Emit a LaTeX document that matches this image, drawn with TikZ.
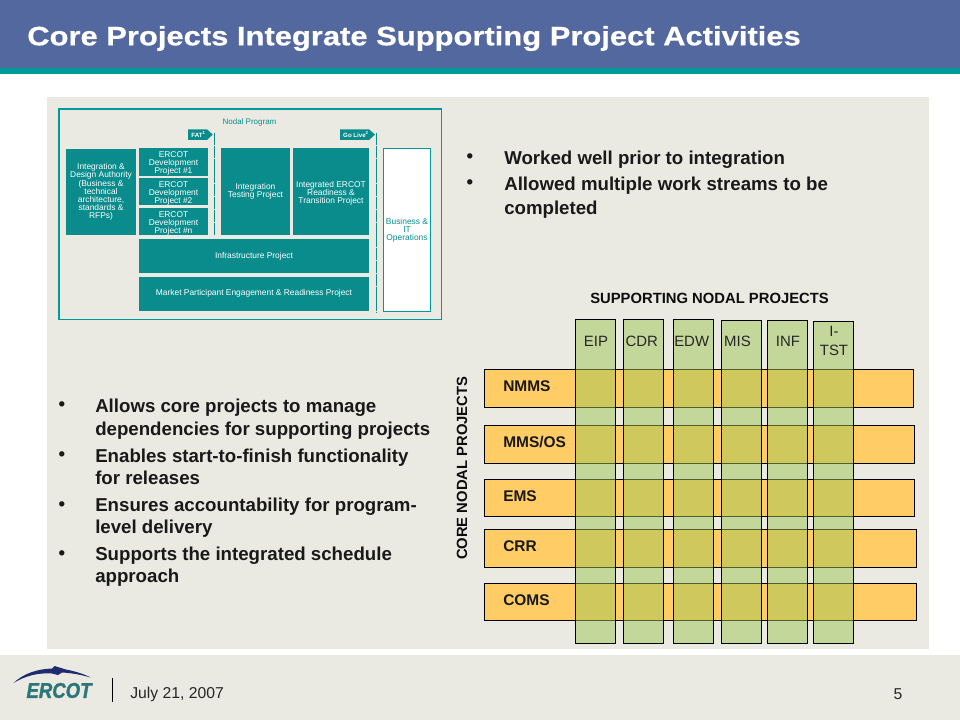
\documentclass[tikz,border=0pt]{standalone}
\usepackage{fontspec}
\setmainfont{Liberation Sans}
\newfontfamily\titlefont{Liberation Sans}[BoldFeatures={FakeStretch=1.16,FakeBold=0.5}]
\newfontfamily\logofont{Liberation Sans}[BoldItalicFeatures={FakeStretch=0.87,FakeBold=1.5}]
\usetikzlibrary{positioning}
\definecolor{headblue}{HTML}{5468A0}
\definecolor{stripeteal}{HTML}{009A9A}
\definecolor{panelgrey}{HTML}{EAEAE2}
\definecolor{boxteal}{HTML}{0A8C8C}
\definecolor{roworange}{HTML}{FFCC66}
\definecolor{colgreen}{HTML}{9FC556}
\definecolor{logoblue}{HTML}{1F2A70}
\definecolor{logoteal}{HTML}{2A7678}
\newcommand{\lowerline}{\rule{0pt}{6.8pt}} % pushes a block of small text down a little
\tikzset{
	box/.style={anchor=north west, inner sep=0pt, outer sep=0pt}, % all boxes are given by their top left corner
	size/.style 2 args={minimum width=#1*0.75pt, minimum height=#2*0.75pt}, % sizes in pixels of the slide
	tealbox/.style={box, fill=boxteal, text=white, align=center, font=\fontsize{6.3}{6.1}\selectfont},
	rowbar/.style={box, draw=black, line width=0.6pt, fill=roworange},
	colbar/.style={box, draw=black, line width=0.6pt, fill=colgreen, fill opacity=0.5},
	rowlabel/.style={anchor=west, inner sep=0pt, font=\fontsize{11.6}{13}\selectfont\bfseries, text=black!90},
	collabel/.style={inner sep=0pt, align=center, font=\fontsize{11.2}{14}\selectfont, text=black!85},
	headlabel/.style={inner sep=0pt, font=\fontsize{11.1}{12}\selectfont\bfseries, text=black!95},
	bullettext/.style={anchor=north west, inner sep=0pt, align=left, font=\fontsize{14}{16.5}\selectfont\bfseries, text=black!90},
	bulletmark/.style={inner sep=0pt, font=\fontsize{14}{16.5}\selectfont\bfseries, text=black!90},
	flag/.style={fill=boxteal},
	flagtext/.style={inner sep=0pt, text=white, font=\fontsize{4.6}{5}\selectfont\bfseries},
	gate/.style={draw=boxteal, line width=1pt, dash pattern=on 9pt off 0.6pt},
}
\begin{document}
\begin{tikzpicture}[x=0.75pt,y=-0.75pt]
	\useasboundingbox (0,0) rectangle (960,720);
	% slide background
	\fill[white] (0,0) rectangle (960,720);
	\fill[headblue] (0,0) rectangle (960,68);
	\fill[stripeteal] (0,68) rectangle (960,74);
	\fill[panelgrey] (47,97) rectangle (929,649);
	\fill[panelgrey] (0,655) rectangle (960,720);
	\node[anchor=west, inner sep=0pt, text=white, font=\fontsize{20}{24}\titlefont\bfseries] (title) at (27,38.5) {Core Projects Integrate Supporting Project Activities};

	% small program chart
	\node[box, draw=stripeteal, line width=0.8pt, size={382.7}{210.3}] (program) at (59,109) {};
	\node[inner sep=0pt, text=boxteal, font=\fontsize{6}{7}\selectfont] (programname) at (249.5,122) {Nodal Program};
	\node[tealbox, size={70}{86}] (design) at (66,149) {Integration \&\\Design Authority\\(Business \&\\technical\\architecture,\\standards \&\\RFPs)};
	\node[tealbox, size={69}{28}] (dev1) at (139,148) {\lowerline ERCOT\\Development\\Project \#1};
	\node[tealbox, size={69}{27}] (dev2) at (139,178) {\lowerline ERCOT\\Development\\Project \#2};
	\node[tealbox, size={69}{27}] (devn) at (139,208) {\lowerline ERCOT\\Development\\Project \#n};
	\node[tealbox, size={69}{87}] (testing) at (221,148) {Integration\\Testing Project};
	\node[tealbox, size={76}{87}] (readiness) at (293,148) {\lowerline Integrated ERCOT\\Readiness \&\\Transition Project};
	\node[tealbox, size={230}{33.7}] (infra) at (139,239) {Infrastructure Project};
	\node[tealbox, size={230}{34}] (market) at (139,276.7) {Market Participant Engagement \& Readiness Project};
	\node[box, draw=stripeteal, line width=0.8pt, fill=white, text=boxteal, align=center, font=\fontsize{6.3}{6.1}\selectfont, size={47.4}{163.4}] (business) at (383.3,148.3) {Business \&\\IT\\Operations};

	\fill[flag] (188,129.3) -- (207,129.3) -- (212.7,134.6) -- (207,140) -- (188,140) -- cycle;
	\node[flagtext] (fat) at (198.5,134.7) {FAT\textsuperscript{1}};
	\fill[flag] (340,129.3) -- (369,129.3) -- (375,134.6) -- (369,140) -- (340,140) -- cycle;
	\node[flagtext] (golive) at (356,134.7) {Go Live\textsuperscript{2}};
	\coordinate (fattop) at (214.3,133);
	\coordinate (fatend) at (214.3,235);
	\coordinate (livetop) at (376.7,133);
	\coordinate (liveend) at (376.7,312.7);
	\draw[gate] (fattop) -- (fatend);
	\draw[gate] (livetop) -- (liveend);

	% bullets top right
	\node[bullettext] (well) at (504,151) {Worked well prior to integration};
	\node[bullettext] (streams) at (504,177) {Allowed multiple work streams to be\\[1.4pt]completed};
	\node[bulletmark] (wellmark) at (470,158) {•};
	\node[bulletmark] (streamsmark) at (470,184) {•};

	% bullets bottom left
	\node[bullettext] (manage) at (95,399) {Allows core projects to manage\\[0.7pt]dependencies for supporting projects};
	\node[bullettext] (enable) at (95,448.5) {Enables start-to-finish functionality\\for releases};
	\node[bullettext] (ensure) at (95,497.5) {Ensures accountability for program-\\level delivery};
	\node[bullettext] (support) at (95,547) {Supports the integrated schedule\\approach};
	\node[bulletmark] (managemark) at (62,406.5) {•};
	\node[bulletmark] (enablemark) at (62,456) {•};
	\node[bulletmark] (ensuremark) at (62,506.5) {•};
	\node[bulletmark] (supportmark) at (62,555) {•};

	% matrix of projects
	\node[headlabel] (supporting) at (709.5,298.5) {SUPPORTING NODAL PROJECTS};
	\node[headlabel, rotate=90] (core) at (462,468.3) {CORE NODAL PROJECTS};

	\node[rowbar, size={429}{38}] (nmms) at (484.3,369.3) {};
	\node[rowbar, size={430}{38}] (mmsos) at (484.3,425.3) {};
	\node[rowbar, size={430}{37}] (ems) at (484.3,479.3) {};
	\node[rowbar, size={432.4}{38}] (crr) at (484.3,529.3) {};
	\node[rowbar, size={432.4}{37}] (coms) at (484.3,583.3) {};
	\node[rowlabel] (nmmstext) at (503,386.3) {NMMS};
	\node[rowlabel] (mmsostext) at (503,442) {MMS/OS};
	\node[rowlabel] (emstext) at (503,496) {EMS};
	\node[rowlabel] (crrtext) at (503,546) {CRR};
	\node[rowlabel] (comstext) at (503,600) {COMS};

	\node[colbar, size={40}{324}] (eip) at (575.3,319.3) {};
	\node[colbar, size={40}{324}] (cdr) at (623.3,319.3) {};
	\node[colbar, size={40}{324}] (edw) at (673.3,319.3) {};
	\node[colbar, size={40}{323}] (mis) at (721.3,320.3) {};
	\node[colbar, size={40}{323}] (inf) at (767.3,320.3) {};
	\node[colbar, size={40}{322}] (itst) at (813.3,321.3) {};
	\node[collabel] (eiptext) at (596,341) {EIP};
	\node[collabel] (cdrtext) at (641.7,341) {CDR};
	\node[collabel] (edwtext) at (691.7,341) {EDW};
	\node[collabel] (mistext) at (737.5,341) {MIS};
	\node[collabel] (inftext) at (788,341) {INF};
	\node[collabel] (itsttext) at (834,341) {I-\\TST};

	% footer with logo
	\fill[logoblue] (13.5,683) .. controls (24,673) and (38,669) .. (52,668.5) -- (54.5,666) -- (66,669.5) .. controls (76,671.5) and (84,674) .. (90.5,677.5) .. controls (82,675) and (72,673) .. (62,672.5) -- (58,675) -- (52,673.5) .. controls (38,672.5) and (25,676) .. (13.5,683) -- cycle;
	\node[inner sep=0pt, text=logoteal, font=\fontsize{16}{18}\logofont\bfseries\itshape] (ercot) at (59,690.5) {ERCOT};
	\coordinate (septop) at (112.5,678);
	\coordinate (sepend) at (112.5,702);
	\draw[black, line width=0.7pt] (septop) -- (sepend);
	\node[anchor=west, inner sep=0pt, text=black!85, font=\fontsize{11.8}{14}\selectfont] (date) at (130,694.5) {July 21, 2007};
	\node[inner sep=0pt, text=black!85, font=\fontsize{11.8}{14}\selectfont] (pagenum) at (898,694.5) {5};
\end{tikzpicture}
\end{document}
